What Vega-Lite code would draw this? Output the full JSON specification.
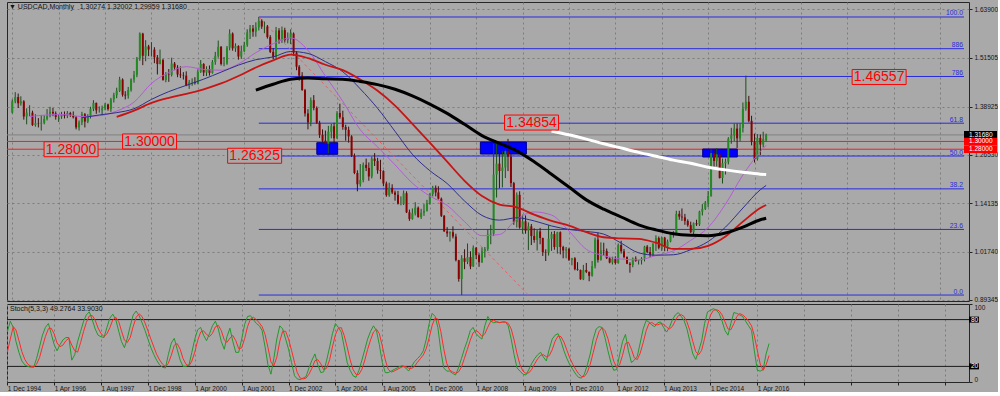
{
"$schema": "https://vega.github.io/schema/vega-lite/v6.json",
"background": "#a9a9a9",
"padding": {"left": 4, "top": 1, "right": 0, "bottom": 0},
"autosize": {"type": "pad"},
"spacing": 3,
"bounds": "flush",
"config": {
  "font": "Liberation Sans",
  "view": {"stroke": "#262626", "strokeWidth": 1},
  "axis": {"labelFont": "Liberation Sans", "labelFontSize": 6.5, "labelColor": "#141414", "domain": false, "tickColor": "#222222", "tickSize": 3, "gridColor": "#7c7c7c", "gridDash": [2, 3], "gridOpacity": 1, "title": null, "labelOverlap": false, "labelBound": false}
},
"datasets": {
"bars": [
{"d":"1994-12-01","o":1.374,"h":1.408,"l":1.372,"c":1.403,"k":64,"dl":38},
{"d":"1995-01-01","o":1.403,"h":1.4267,"l":1.398,"c":1.414,"k":78,"dl":55},
{"d":"1995-02-01","o":1.414,"h":1.423,"l":1.386,"c":1.398,"k":70,"dl":71},
{"d":"1995-03-01","o":1.398,"h":1.416,"l":1.392,"c":1.403,"k":52,"dl":66.7},
{"d":"1995-04-01","o":1.403,"h":1.406,"l":1.356,"c":1.364,"k":38,"dl":53.3},
{"d":"1995-05-01","o":1.364,"h":1.385,"l":1.344,"c":1.374,"k":27,"dl":39},
{"d":"1995-06-01","o":1.374,"h":1.393,"l":1.365,"c":1.374,"k":22,"dl":29},
{"d":"1995-07-01","o":1.374,"h":1.379,"l":1.340,"c":1.342,"k":20,"dl":23},
{"d":"1995-08-01","o":1.342,"h":1.370,"l":1.338,"c":1.347,"k":19,"dl":20.3},
{"d":"1995-09-01","o":1.347,"h":1.360,"l":1.336,"c":1.346,"k":19,"dl":19.3},
{"d":"1995-10-01","o":1.346,"h":1.368,"l":1.328,"c":1.348,"k":30,"dl":22.7},
{"d":"1995-11-01","o":1.348,"h":1.367,"l":1.344,"c":1.358,"k":45,"dl":31.3},
{"d":"1995-12-01","o":1.358,"h":1.383,"l":1.354,"c":1.365,"k":60,"dl":45},
{"d":"1996-01-01","o":1.365,"h":1.389,"l":1.362,"c":1.376,"k":70,"dl":58.3},
{"d":"1996-02-01","o":1.376,"h":1.386,"l":1.365,"c":1.372,"k":75,"dl":68.3},
{"d":"1996-03-01","o":1.372,"h":1.377,"l":1.356,"c":1.363,"k":62,"dl":69},
{"d":"1996-04-01","o":1.363,"h":1.370,"l":1.350,"c":1.364,"k":48,"dl":61.7},
{"d":"1996-05-01","o":1.364,"h":1.376,"l":1.358,"c":1.369,"k":40,"dl":50},
{"d":"1996-06-01","o":1.369,"h":1.377,"l":1.359,"c":1.366,"k":48,"dl":45.3},
{"d":"1996-07-01","o":1.366,"h":1.378,"l":1.360,"c":1.373,"k":54,"dl":47.3},
{"d":"1996-08-01","o":1.373,"h":1.376,"l":1.363,"c":1.368,"k":57,"dl":53},
{"d":"1996-09-01","o":1.368,"h":1.377,"l":1.359,"c":1.362,"k":57,"dl":56},
{"d":"1996-10-01","o":1.362,"h":1.365,"l":1.331,"c":1.336,"k":28,"dl":47.3},
{"d":"1996-11-01","o":1.336,"h":1.354,"l":1.328,"c":1.349,"k":35,"dl":40},
{"d":"1996-12-01","o":1.349,"h":1.376,"l":1.342,"c":1.370,"k":52,"dl":38.3},
{"d":"1997-01-01","o":1.370,"h":1.373,"l":1.336,"c":1.351,"k":65,"dl":50.7},
{"d":"1997-02-01","o":1.351,"h":1.370,"l":1.347,"c":1.364,"k":78,"dl":65},
{"d":"1997-03-01","o":1.364,"h":1.389,"l":1.359,"c":1.384,"k":86,"dl":76.3},
{"d":"1997-04-01","o":1.384,"h":1.406,"l":1.378,"c":1.399,"k":90,"dl":84.7},
{"d":"1997-05-01","o":1.399,"h":1.400,"l":1.371,"c":1.380,"k":80,"dl":85.3},
{"d":"1997-06-01","o":1.380,"h":1.390,"l":1.374,"c":1.380,"k":68,"dl":79.3},
{"d":"1997-07-01","o":1.380,"h":1.392,"l":1.368,"c":1.385,"k":60,"dl":69.3},
{"d":"1997-08-01","o":1.385,"h":1.399,"l":1.380,"c":1.395,"k":58,"dl":62},
{"d":"1997-09-01","o":1.395,"h":1.397,"l":1.379,"c":1.383,"k":57,"dl":58.3},
{"d":"1997-10-01","o":1.383,"h":1.412,"l":1.376,"c":1.408,"k":70,"dl":61.7},
{"d":"1997-11-01","o":1.408,"h":1.425,"l":1.400,"c":1.419,"k":82,"dl":69.7},
{"d":"1997-12-01","o":1.419,"h":1.438,"l":1.411,"c":1.430,"k":87,"dl":79.7},
{"d":"1998-01-01","o":1.430,"h":1.466,"l":1.427,"c":1.459,"k":80,"dl":83},
{"d":"1998-02-01","o":1.459,"h":1.462,"l":1.415,"c":1.420,"k":65,"dl":77.3},
{"d":"1998-03-01","o":1.420,"h":1.429,"l":1.408,"c":1.418,"k":52,"dl":65.7},
{"d":"1998-04-01","o":1.418,"h":1.440,"l":1.410,"c":1.432,"k":44,"dl":53.7},
{"d":"1998-05-01","o":1.432,"h":1.462,"l":1.428,"c":1.459,"k":56,"dl":50.7},
{"d":"1998-06-01","o":1.459,"h":1.481,"l":1.451,"c":1.471,"k":72,"dl":57.3},
{"d":"1998-07-01","o":1.471,"h":1.517,"l":1.465,"c":1.513,"k":86,"dl":71.3},
{"d":"1998-08-01","o":1.513,"h":1.580,"l":1.507,"c":1.577,"k":91,"dl":83},
{"d":"1998-09-01","o":1.577,"h":1.579,"l":1.496,"c":1.520,"k":85,"dl":87.3},
{"d":"1998-10-01","o":1.520,"h":1.560,"l":1.506,"c":1.544,"k":76,"dl":84},
{"d":"1998-11-01","o":1.544,"h":1.548,"l":1.519,"c":1.536,"k":66,"dl":75.7},
{"d":"1998-12-01","o":1.536,"h":1.555,"l":1.518,"c":1.536,"k":55,"dl":65.7},
{"d":"1999-01-01","o":1.536,"h":1.542,"l":1.501,"c":1.516,"k":44,"dl":55},
{"d":"1999-02-01","o":1.516,"h":1.522,"l":1.472,"c":1.499,"k":35,"dl":44.7},
{"d":"1999-03-01","o":1.499,"h":1.536,"l":1.498,"c":1.509,"k":28,"dl":35.7},
{"d":"1999-04-01","o":1.509,"h":1.512,"l":1.456,"c":1.458,"k":22,"dl":28.3},
{"d":"1999-05-01","o":1.458,"h":1.478,"l":1.452,"c":1.472,"k":19,"dl":23},
{"d":"1999-06-01","o":1.472,"h":1.486,"l":1.453,"c":1.471,"k":18,"dl":19.7},
{"d":"1999-07-01","o":1.471,"h":1.515,"l":1.467,"c":1.500,"k":35,"dl":24},
{"d":"1999-08-01","o":1.500,"h":1.504,"l":1.483,"c":1.490,"k":50,"dl":34.3},
{"d":"1999-09-01","o":1.490,"h":1.496,"l":1.465,"c":1.472,"k":56,"dl":47},
{"d":"1999-10-01","o":1.472,"h":1.493,"l":1.463,"c":1.470,"k":42,"dl":49.3},
{"d":"1999-11-01","o":1.470,"h":1.478,"l":1.459,"c":1.469,"k":28,"dl":42},
{"d":"1999-12-01","o":1.469,"h":1.480,"l":1.442,"c":1.443,"k":20,"dl":30},
{"d":"2000-01-01","o":1.443,"h":1.458,"l":1.435,"c":1.452,"k":20,"dl":22.7},
{"d":"2000-02-01","o":1.452,"h":1.462,"l":1.443,"c":1.453,"k":22,"dl":20.7},
{"d":"2000-03-01","o":1.453,"h":1.465,"l":1.446,"c":1.450,"k":38,"dl":26.7},
{"d":"2000-04-01","o":1.450,"h":1.485,"l":1.447,"c":1.479,"k":55,"dl":38.3},
{"d":"2000-05-01","o":1.479,"h":1.509,"l":1.476,"c":1.499,"k":67,"dl":53.3},
{"d":"2000-06-01","o":1.499,"h":1.501,"l":1.468,"c":1.477,"k":70,"dl":64},
{"d":"2000-07-01","o":1.477,"h":1.493,"l":1.468,"c":1.486,"k":60,"dl":65.7},
{"d":"2000-08-01","o":1.486,"h":1.495,"l":1.469,"c":1.476,"k":53,"dl":61},
{"d":"2000-09-01","o":1.476,"h":1.509,"l":1.474,"c":1.504,"k":62,"dl":58.3},
{"d":"2000-10-01","o":1.504,"h":1.530,"l":1.497,"c":1.520,"k":72,"dl":62.3},
{"d":"2000-11-01","o":1.520,"h":1.559,"l":1.515,"c":1.543,"k":78,"dl":70.7},
{"d":"2000-12-01","o":1.543,"h":1.545,"l":1.495,"c":1.499,"k":68,"dl":72.7},
{"d":"2001-01-01","o":1.499,"h":1.517,"l":1.493,"c":1.500,"k":52,"dl":66},
{"d":"2001-02-01","o":1.500,"h":1.545,"l":1.497,"c":1.541,"k":42,"dl":54},
{"d":"2001-03-01","o":1.541,"h":1.588,"l":1.534,"c":1.577,"k":58,"dl":50.7},
{"d":"2001-04-01","o":1.577,"h":1.580,"l":1.533,"c":1.539,"k":69,"dl":56.3},
{"d":"2001-05-01","o":1.539,"h":1.552,"l":1.530,"c":1.545,"k":52,"dl":59.7},
{"d":"2001-06-01","o":1.545,"h":1.547,"l":1.510,"c":1.518,"k":38,"dl":53},
{"d":"2001-07-01","o":1.518,"h":1.546,"l":1.512,"c":1.532,"k":38,"dl":42.7},
{"d":"2001-08-01","o":1.532,"h":1.556,"l":1.530,"c":1.548,"k":55,"dl":43.7},
{"d":"2001-09-01","o":1.548,"h":1.588,"l":1.543,"c":1.580,"k":74,"dl":55.7},
{"d":"2001-10-01","o":1.580,"h":1.599,"l":1.563,"c":1.590,"k":84,"dl":71},
{"d":"2001-11-01","o":1.590,"h":1.599,"l":1.569,"c":1.582,"k":85,"dl":81},
{"d":"2001-12-01","o":1.582,"h":1.606,"l":1.569,"c":1.593,"k":80,"dl":83},
{"d":"2002-01-01","o":1.593,"h":1.6196,"l":1.585,"c":1.610,"k":75,"dl":80},
{"d":"2002-02-01","o":1.610,"h":1.614,"l":1.589,"c":1.595,"k":72,"dl":75.7},
{"d":"2002-03-01","o":1.595,"h":1.608,"l":1.578,"c":1.595,"k":66,"dl":71},
{"d":"2002-04-01","o":1.595,"h":1.599,"l":1.564,"c":1.568,"k":45,"dl":61},
{"d":"2002-05-01","o":1.568,"h":1.573,"l":1.527,"c":1.530,"k":22,"dl":44.3},
{"d":"2002-06-01","o":1.530,"h":1.540,"l":1.511,"c":1.517,"k":10,"dl":25.7},
{"d":"2002-07-01","o":1.517,"h":1.594,"l":1.510,"c":1.585,"k":30,"dl":20.7},
{"d":"2002-08-01","o":1.585,"h":1.591,"l":1.551,"c":1.562,"k":55,"dl":31.7},
{"d":"2002-09-01","o":1.562,"h":1.595,"l":1.553,"c":1.586,"k":72,"dl":52.3},
{"d":"2002-10-01","o":1.586,"h":1.592,"l":1.554,"c":1.560,"k":68,"dl":65},
{"d":"2002-11-01","o":1.560,"h":1.580,"l":1.552,"c":1.566,"k":55,"dl":65},
{"d":"2002-12-01","o":1.566,"h":1.588,"l":1.550,"c":1.577,"k":42,"dl":55},
{"d":"2003-01-01","o":1.577,"h":1.580,"l":1.520,"c":1.528,"k":25,"dl":40.7},
{"d":"2003-02-01","o":1.528,"h":1.532,"l":1.483,"c":1.492,"k":8,"dl":25},
{"d":"2003-03-01","o":1.492,"h":1.496,"l":1.456,"c":1.469,"k":4,"dl":12.3},
{"d":"2003-04-01","o":1.469,"h":1.478,"l":1.430,"c":1.432,"k":3,"dl":5},
{"d":"2003-05-01","o":1.432,"h":1.435,"l":1.364,"c":1.372,"k":5,"dl":4},
{"d":"2003-06-01","o":1.372,"h":1.383,"l":1.331,"c":1.349,"k":7,"dl":5},
{"d":"2003-07-01","o":1.349,"h":1.413,"l":1.339,"c":1.406,"k":18,"dl":10},
{"d":"2003-08-01","o":1.406,"h":1.419,"l":1.380,"c":1.386,"k":28,"dl":17.7},
{"d":"2003-09-01","o":1.386,"h":1.390,"l":1.345,"c":1.348,"k":36,"dl":27.3},
{"d":"2003-10-01","o":1.348,"h":1.353,"l":1.309,"c":1.317,"k":22,"dl":28.7},
{"d":"2003-11-01","o":1.317,"h":1.331,"l":1.298,"c":1.302,"k":12,"dl":23.3},
{"d":"2003-12-01","o":1.302,"h":1.328,"l":1.290,"c":1.294,"k":13,"dl":15.7},
{"d":"2004-01-01","o":1.294,"h":1.340,"l":1.270,"c":1.325,"k":28,"dl":17.7},
{"d":"2004-02-01","o":1.325,"h":1.345,"l":1.308,"c":1.339,"k":45,"dl":28.7},
{"d":"2004-03-01","o":1.339,"h":1.348,"l":1.296,"c":1.308,"k":62,"dl":45},
{"d":"2004-04-01","o":1.308,"h":1.378,"l":1.307,"c":1.373,"k":75,"dl":60.7},
{"d":"2004-05-01","o":1.373,"h":1.397,"l":1.358,"c":1.362,"k":70,"dl":69},
{"d":"2004-06-01","o":1.362,"h":1.379,"l":1.330,"c":1.337,"k":64,"dl":69.7},
{"d":"2004-07-01","o":1.337,"h":1.343,"l":1.302,"c":1.330,"k":45,"dl":59.7},
{"d":"2004-08-01","o":1.330,"h":1.338,"l":1.297,"c":1.313,"k":25,"dl":44.7},
{"d":"2004-09-01","o":1.313,"h":1.316,"l":1.260,"c":1.263,"k":15,"dl":28.3},
{"d":"2004-10-01","o":1.263,"h":1.269,"l":1.216,"c":1.219,"k":8,"dl":16},
{"d":"2004-11-01","o":1.219,"h":1.226,"l":1.172,"c":1.190,"k":6,"dl":9.7},
{"d":"2004-12-01","o":1.190,"h":1.242,"l":1.184,"c":1.201,"k":15,"dl":9.7},
{"d":"2005-01-01","o":1.201,"h":1.246,"l":1.195,"c":1.240,"k":28,"dl":16.3},
{"d":"2005-02-01","o":1.240,"h":1.256,"l":1.224,"c":1.232,"k":42,"dl":28.3},
{"d":"2005-03-01","o":1.232,"h":1.246,"l":1.199,"c":1.210,"k":55,"dl":41.7},
{"d":"2005-04-01","o":1.210,"h":1.261,"l":1.205,"c":1.256,"k":65,"dl":54},
{"d":"2005-05-01","o":1.256,"h":1.270,"l":1.237,"c":1.250,"k":72,"dl":64},
{"d":"2005-06-01","o":1.250,"h":1.258,"l":1.217,"c":1.226,"k":66,"dl":67.7},
{"d":"2005-07-01","o":1.226,"h":1.253,"l":1.203,"c":1.224,"k":48,"dl":62},
{"d":"2005-08-01","o":1.224,"h":1.226,"l":1.185,"c":1.192,"k":25,"dl":46.3},
{"d":"2005-09-01","o":1.192,"h":1.197,"l":1.158,"c":1.162,"k":12,"dl":28.3},
{"d":"2005-10-01","o":1.162,"h":1.194,"l":1.158,"c":1.181,"k":12,"dl":16.3},
{"d":"2005-11-01","o":1.181,"h":1.190,"l":1.165,"c":1.169,"k":14,"dl":12.7},
{"d":"2005-12-01","o":1.169,"h":1.174,"l":1.148,"c":1.163,"k":16,"dl":14},
{"d":"2006-01-01","o":1.163,"h":1.173,"l":1.138,"c":1.140,"k":18,"dl":16},
{"d":"2006-02-01","o":1.140,"h":1.159,"l":1.136,"c":1.140,"k":20,"dl":18},
{"d":"2006-03-01","o":1.140,"h":1.174,"l":1.137,"c":1.167,"k":21,"dl":19.7},
{"d":"2006-04-01","o":1.167,"h":1.172,"l":1.116,"c":1.118,"k":18,"dl":19.7},
{"d":"2006-05-01","o":1.118,"h":1.125,"l":1.096,"c":1.101,"k":14,"dl":17.7},
{"d":"2006-06-01","o":1.101,"h":1.128,"l":1.099,"c":1.115,"k":20,"dl":17.3},
{"d":"2006-07-01","o":1.115,"h":1.144,"l":1.110,"c":1.130,"k":26,"dl":20},
{"d":"2006-08-01","o":1.130,"h":1.133,"l":1.104,"c":1.106,"k":30,"dl":25.3},
{"d":"2006-09-01","o":1.106,"h":1.127,"l":1.101,"c":1.117,"k":34,"dl":30},
{"d":"2006-10-01","o":1.117,"h":1.139,"l":1.109,"c":1.122,"k":40,"dl":34.7},
{"d":"2006-11-01","o":1.122,"h":1.150,"l":1.120,"c":1.142,"k":55,"dl":43},
{"d":"2006-12-01","o":1.142,"h":1.167,"l":1.138,"c":1.165,"k":75,"dl":56.7},
{"d":"2007-01-01","o":1.165,"h":1.186,"l":1.159,"c":1.181,"k":88,"dl":72.7},
{"d":"2007-02-01","o":1.181,"h":1.187,"l":1.159,"c":1.169,"k":84,"dl":82.3},
{"d":"2007-03-01","o":1.169,"h":1.185,"l":1.151,"c":1.153,"k":70,"dl":80.7},
{"d":"2007-04-01","o":1.153,"h":1.156,"l":1.106,"c":1.109,"k":40,"dl":64.7},
{"d":"2007-05-01","o":1.109,"h":1.111,"l":1.068,"c":1.069,"k":18,"dl":42.7},
{"d":"2007-06-01","o":1.069,"h":1.080,"l":1.055,"c":1.064,"k":14,"dl":24},
{"d":"2007-07-01","o":1.064,"h":1.069,"l":1.043,"c":1.067,"k":14,"dl":15.3},
{"d":"2007-08-01","o":1.067,"h":1.082,"l":1.051,"c":1.056,"k":11,"dl":13},
{"d":"2007-09-01","o":1.056,"h":1.063,"l":0.992,"c":0.995,"k":9,"dl":11.3},
{"d":"2007-10-01","o":0.995,"h":0.996,"l":0.940,"c":0.947,"k":18,"dl":12.7},
{"d":"2007-11-01","o":0.947,"h":1.008,"l":0.9056,"c":1.000,"k":30,"dl":19},
{"d":"2007-12-01","o":1.000,"h":1.023,"l":0.972,"c":0.991,"k":42,"dl":30},
{"d":"2008-01-01","o":0.991,"h":1.038,"l":0.985,"c":1.003,"k":53,"dl":41.7},
{"d":"2008-02-01","o":1.003,"h":1.018,"l":0.972,"c":0.979,"k":66,"dl":53.7},
{"d":"2008-03-01","o":0.979,"h":1.033,"l":0.978,"c":1.027,"k":70,"dl":63},
{"d":"2008-04-01","o":1.027,"h":1.029,"l":0.998,"c":1.008,"k":62,"dl":66},
{"d":"2008-05-01","o":1.008,"h":1.013,"l":0.978,"c":0.990,"k":58,"dl":63.3},
{"d":"2008-06-01","o":0.990,"h":1.028,"l":0.988,"c":1.019,"k":55,"dl":58.3},
{"d":"2008-07-01","o":1.019,"h":1.029,"l":1.002,"c":1.024,"k":72,"dl":61.7},
{"d":"2008-08-01","o":1.024,"h":1.075,"l":1.019,"c":1.061,"k":84,"dl":70.3},
{"d":"2008-09-01","o":1.061,"h":1.086,"l":1.036,"c":1.063,"k":78,"dl":78},
{"d":"2008-10-01","o":1.063,"h":1.294,"l":1.057,"c":1.215,"k":76,"dl":79.3},
{"d":"2008-11-01","o":1.215,"h":1.299,"l":1.156,"c":1.243,"k":77,"dl":77},
{"d":"2008-12-01","o":1.243,"h":1.299,"l":1.180,"c":1.224,"k":76,"dl":76.3},
{"d":"2009-01-01","o":1.224,"h":1.275,"l":1.182,"c":1.233,"k":77,"dl":76.7},
{"d":"2009-02-01","o":1.233,"h":1.279,"l":1.206,"c":1.275,"k":77,"dl":76.7},
{"d":"2009-03-01","o":1.275,"h":1.3066,"l":1.224,"c":1.261,"k":72,"dl":75.3},
{"d":"2009-04-01","o":1.261,"h":1.268,"l":1.183,"c":1.193,"k":55,"dl":68},
{"d":"2009-05-01","o":1.193,"h":1.196,"l":1.086,"c":1.093,"k":35,"dl":54},
{"d":"2009-06-01","o":1.093,"h":1.169,"l":1.079,"c":1.163,"k":18,"dl":36},
{"d":"2009-07-01","o":1.163,"h":1.172,"l":1.076,"c":1.079,"k":14,"dl":22.3},
{"d":"2009-08-01","o":1.079,"h":1.112,"l":1.063,"c":1.095,"k":10,"dl":14},
{"d":"2009-09-01","o":1.095,"h":1.110,"l":1.063,"c":1.071,"k":9,"dl":11},
{"d":"2009-10-01","o":1.071,"h":1.092,"l":1.021,"c":1.082,"k":16,"dl":11.7},
{"d":"2009-11-01","o":1.082,"h":1.088,"l":1.034,"c":1.057,"k":24,"dl":16.3},
{"d":"2009-12-01","o":1.057,"h":1.077,"l":1.040,"c":1.047,"k":30,"dl":23.3},
{"d":"2010-01-01","o":1.047,"h":1.073,"l":1.020,"c":1.069,"k":35,"dl":29.7},
{"d":"2010-02-01","o":1.069,"h":1.078,"l":1.036,"c":1.052,"k":38,"dl":34.3},
{"d":"2010-03-01","o":1.052,"h":1.053,"l":1.006,"c":1.016,"k":32,"dl":35},
{"d":"2010-04-01","o":1.016,"h":1.023,"l":0.993,"c":1.015,"k":27,"dl":32.3},
{"d":"2010-05-01","o":1.015,"h":1.085,"l":1.007,"c":1.050,"k":42,"dl":33.7},
{"d":"2010-06-01","o":1.050,"h":1.068,"l":1.019,"c":1.062,"k":55,"dl":41.3},
{"d":"2010-07-01","o":1.062,"h":1.070,"l":1.022,"c":1.029,"k":60,"dl":52.3},
{"d":"2010-08-01","o":1.029,"h":1.068,"l":1.012,"c":1.067,"k":62,"dl":59},
{"d":"2010-09-01","o":1.067,"h":1.069,"l":1.010,"c":1.029,"k":52,"dl":58},
{"d":"2010-10-01","o":1.029,"h":1.032,"l":1.000,"c":1.020,"k":40,"dl":51.3},
{"d":"2010-11-01","o":1.020,"h":1.029,"l":1.000,"c":1.024,"k":30,"dl":40.7},
{"d":"2010-12-01","o":1.024,"h":1.027,"l":0.993,"c":0.996,"k":22,"dl":30.7},
{"d":"2011-01-01","o":0.996,"h":1.001,"l":0.982,"c":1.000,"k":16,"dl":22.7},
{"d":"2011-02-01","o":1.000,"h":1.003,"l":0.969,"c":0.972,"k":10,"dl":16},
{"d":"2011-03-01","o":0.972,"h":0.990,"l":0.968,"c":0.970,"k":6,"dl":10.7},
{"d":"2011-04-01","o":0.970,"h":0.971,"l":0.945,"c":0.946,"k":5,"dl":7},
{"d":"2011-05-01","o":0.946,"h":0.983,"l":0.944,"c":0.970,"k":10,"dl":7},
{"d":"2011-06-01","o":0.970,"h":0.988,"l":0.962,"c":0.965,"k":22,"dl":12.3},
{"d":"2011-07-01","o":0.965,"h":0.966,"l":0.941,"c":0.955,"k":36,"dl":22.7},
{"d":"2011-08-01","o":0.955,"h":0.993,"l":0.953,"c":0.980,"k":55,"dl":37.7},
{"d":"2011-09-01","o":0.980,"h":1.053,"l":0.974,"c":1.048,"k":68,"dl":53},
{"d":"2011-10-01","o":1.048,"h":1.066,"l":0.989,"c":0.996,"k":71,"dl":64.7},
{"d":"2011-11-01","o":0.996,"h":1.041,"l":0.994,"c":1.020,"k":70,"dl":69.7},
{"d":"2011-12-01","o":1.020,"h":1.040,"l":1.007,"c":1.019,"k":57,"dl":66},
{"d":"2012-01-01","o":1.019,"h":1.025,"l":0.998,"c":1.000,"k":40,"dl":55.7},
{"d":"2012-02-01","o":1.000,"h":1.003,"l":0.987,"c":0.989,"k":25,"dl":40.7},
{"d":"2012-03-01","o":0.989,"h":1.004,"l":0.984,"c":0.998,"k":15,"dl":26.7},
{"d":"2012-04-01","o":0.998,"h":1.005,"l":0.984,"c":0.988,"k":16,"dl":18.7},
{"d":"2012-05-01","o":0.988,"h":1.038,"l":0.986,"c":1.034,"k":35,"dl":22},
{"d":"2012-06-01","o":1.034,"h":1.045,"l":1.012,"c":1.018,"k":52,"dl":34.3},
{"d":"2012-07-01","o":1.018,"h":1.024,"l":1.000,"c":1.003,"k":61,"dl":49.3},
{"d":"2012-08-01","o":1.003,"h":1.005,"l":0.985,"c":0.986,"k":40,"dl":51},
{"d":"2012-09-01","o":0.986,"h":0.990,"l":0.963,"c":0.983,"k":25,"dl":42},
{"d":"2012-10-01","o":0.983,"h":1.002,"l":0.977,"c":0.999,"k":28,"dl":31},
{"d":"2012-11-01","o":0.999,"h":1.005,"l":0.991,"c":0.993,"k":33,"dl":28.7},
{"d":"2012-12-01","o":0.993,"h":0.996,"l":0.984,"c":0.995,"k":50,"dl":37},
{"d":"2013-01-01","o":0.995,"h":1.003,"l":0.984,"c":0.999,"k":68,"dl":50.3},
{"d":"2013-02-01","o":0.999,"h":1.032,"l":0.992,"c":1.030,"k":79,"dl":65.7},
{"d":"2013-03-01","o":1.030,"h":1.034,"l":1.013,"c":1.016,"k":77,"dl":74.7},
{"d":"2013-04-01","o":1.016,"h":1.029,"l":1.003,"c":1.008,"k":73,"dl":76.3},
{"d":"2013-05-01","o":1.008,"h":1.039,"l":1.006,"c":1.037,"k":71,"dl":73.7},
{"d":"2013-06-01","o":1.037,"h":1.059,"l":1.019,"c":1.052,"k":76,"dl":73.3},
{"d":"2013-07-01","o":1.052,"h":1.056,"l":1.023,"c":1.027,"k":77,"dl":74.7},
{"d":"2013-08-01","o":1.027,"h":1.056,"l":1.019,"c":1.053,"k":70,"dl":74.3},
{"d":"2013-09-01","o":1.053,"h":1.055,"l":1.018,"c":1.030,"k":64,"dl":70.3},
{"d":"2013-10-01","o":1.030,"h":1.048,"l":1.018,"c":1.043,"k":70,"dl":68},
{"d":"2013-11-01","o":1.043,"h":1.063,"l":1.041,"c":1.062,"k":80,"dl":71.3},
{"d":"2013-12-01","o":1.062,"h":1.070,"l":1.053,"c":1.062,"k":86,"dl":78.7},
{"d":"2014-01-01","o":1.062,"h":1.122,"l":1.061,"c":1.114,"k":89,"dl":85},
{"d":"2014-02-01","o":1.114,"h":1.122,"l":1.099,"c":1.107,"k":84,"dl":86.3},
{"d":"2014-03-01","o":1.107,"h":1.128,"l":1.096,"c":1.105,"k":79,"dl":84},
{"d":"2014-04-01","o":1.105,"h":1.114,"l":1.086,"c":1.096,"k":68,"dl":77},
{"d":"2014-05-01","o":1.096,"h":1.100,"l":1.081,"c":1.085,"k":52,"dl":66.3},
{"d":"2014-06-01","o":1.085,"h":1.094,"l":1.065,"c":1.067,"k":36,"dl":52},
{"d":"2014-07-01","o":1.067,"h":1.092,"l":1.062,"c":1.090,"k":29,"dl":39},
{"d":"2014-08-01","o":1.090,"h":1.099,"l":1.083,"c":1.087,"k":40,"dl":35},
{"d":"2014-09-01","o":1.087,"h":1.122,"l":1.083,"c":1.120,"k":53,"dl":40.7},
{"d":"2014-10-01","o":1.120,"h":1.139,"l":1.110,"c":1.127,"k":75,"dl":56},
{"d":"2014-11-01","o":1.127,"h":1.147,"l":1.124,"c":1.143,"k":90,"dl":72.7},
{"d":"2014-12-01","o":1.143,"h":1.173,"l":1.131,"c":1.160,"k":92,"dl":85.7},
{"d":"2015-01-01","o":1.160,"h":1.280,"l":1.158,"c":1.270,"k":94,"dl":92},
{"d":"2015-02-01","o":1.270,"h":1.280,"l":1.235,"c":1.250,"k":92,"dl":92.7},
{"d":"2015-03-01","o":1.250,"h":1.283,"l":1.236,"c":1.267,"k":88,"dl":91.3},
{"d":"2015-04-01","o":1.267,"h":1.269,"l":1.205,"c":1.206,"k":78,"dl":86},
{"d":"2015-05-01","o":1.206,"h":1.256,"l":1.192,"c":1.244,"k":66,"dl":77.3},
{"d":"2015-06-01","o":1.244,"h":1.256,"l":1.215,"c":1.248,"k":60,"dl":68},
{"d":"2015-07-01","o":1.248,"h":1.311,"l":1.241,"c":1.307,"k":75,"dl":67},
{"d":"2015-08-01","o":1.307,"h":1.335,"l":1.294,"c":1.316,"k":89,"dl":74.7},
{"d":"2015-09-01","o":1.316,"h":1.346,"l":1.301,"c":1.333,"k":88,"dl":84},
{"d":"2015-10-01","o":1.333,"h":1.346,"l":1.283,"c":1.308,"k":86,"dl":87.7},
{"d":"2015-11-01","o":1.308,"h":1.346,"l":1.300,"c":1.335,"k":84,"dl":86},
{"d":"2015-12-01","o":1.335,"h":1.400,"l":1.323,"c":1.384,"k":78,"dl":82.7},
{"d":"2016-01-01","o":1.384,"h":1.469,"l":1.379,"c":1.402,"k":72,"dl":78},
{"d":"2016-02-01","o":1.402,"h":1.417,"l":1.349,"c":1.353,"k":66,"dl":72},
{"d":"2016-03-01","o":1.353,"h":1.366,"l":1.290,"c":1.299,"k":40,"dl":59.3},
{"d":"2016-04-01","o":1.299,"h":1.320,"l":1.246,"c":1.255,"k":15,"dl":40.3},
{"d":"2016-05-01","o":1.255,"h":1.319,"l":1.251,"c":1.309,"k":14,"dl":23},
{"d":"2016-06-01","o":1.309,"h":1.318,"l":1.265,"c":1.292,"k":16,"dl":15},
{"d":"2016-07-01","o":1.292,"h":1.325,"l":1.285,"c":1.306,"k":36,"dl":22},
{"d":"2016-08-01","o":1.30274,"h":1.32002,"l":1.29959,"c":1.3168,"k":49.2764,"dl":33.903}
],
"ma": [
{"d":"1995-06-01","m21":1.364,"m40":null,"m55":null,"m100":null,"m200":null},
{"d":"1995-12-01","m21":1.368,"m40":null,"m55":null,"m100":null,"m200":null},
{"d":"1996-06-01","m21":1.369,"m40":null,"m55":null,"m100":null,"m200":null},
{"d":"1996-12-01","m21":1.364,"m40":1.361,"m55":null,"m100":null,"m200":null},
{"d":"1997-06-01","m21":1.366,"m40":1.368,"m55":null,"m100":null,"m200":null},
{"d":"1997-12-01","m21":1.378,"m40":1.374,"m55":1.363,"m100":null,"m200":null},
{"d":"1998-06-01","m21":1.401,"m40":1.384,"m55":1.379,"m100":null,"m200":null},
{"d":"1998-12-01","m21":1.449,"m40":1.408,"m55":1.399,"m100":null,"m200":null},
{"d":"1999-06-01","m21":1.477,"m40":1.428,"m55":1.412,"m100":null,"m200":null},
{"d":"1999-12-01","m21":1.492,"m40":1.444,"m55":1.422,"m100":null,"m200":null},
{"d":"2000-06-01","m21":1.485,"m40":1.460,"m55":1.434,"m100":null,"m200":null},
{"d":"2000-12-01","m21":1.483,"m40":1.478,"m55":1.449,"m100":null,"m200":null},
{"d":"2001-06-01","m21":1.499,"m40":1.496,"m55":1.468,"m100":null,"m200":null},
{"d":"2001-12-01","m21":1.528,"m40":1.510,"m55":1.490,"m100":1.432,"m200":null},
{"d":"2002-06-01","m21":1.551,"m40":1.517,"m55":1.508,"m100":1.447,"m200":null},
{"d":"2002-12-01","m21":1.566,"m40":1.531,"m55":1.523,"m100":1.460,"m200":null},
{"d":"2003-06-01","m21":1.534,"m40":1.526,"m55":1.514,"m100":1.463,"m200":null},
{"d":"2003-12-01","m21":1.468,"m40":1.505,"m55":1.497,"m100":1.461,"m200":null},
{"d":"2004-06-01","m21":1.403,"m40":1.479,"m55":1.483,"m100":1.460,"m200":null},
{"d":"2004-12-01","m21":1.330,"m40":1.435,"m55":1.459,"m100":1.454,"m200":null},
{"d":"2005-06-01","m21":1.286,"m40":1.385,"m55":1.430,"m100":1.446,"m200":null},
{"d":"2005-12-01","m21":1.240,"m40":1.326,"m55":1.392,"m100":1.434,"m200":null},
{"d":"2006-06-01","m21":1.193,"m40":1.267,"m55":1.345,"m100":1.417,"m200":null},
{"d":"2006-12-01","m21":1.160,"m40":1.225,"m55":1.297,"m100":1.396,"m200":null},
{"d":"2007-06-01","m21":1.136,"m40":1.192,"m55":1.248,"m100":1.372,"m200":null},
{"d":"2007-12-01","m21":1.094,"m40":1.147,"m55":1.199,"m100":1.344,"m200":null},
{"d":"2008-06-01","m21":1.058,"m40":1.110,"m55":1.160,"m100":1.315,"m200":null},
{"d":"2008-12-01","m21":1.061,"m40":1.098,"m55":1.138,"m100":1.295,"m200":null},
{"d":"2009-06-01","m21":1.100,"m40":1.104,"m55":1.131,"m100":1.276,"m200":null},
{"d":"2009-12-01","m21":1.119,"m40":1.096,"m55":1.112,"m100":1.248,"m200":null},
{"d":"2010-06-01","m21":1.111,"m40":1.083,"m55":1.096,"m100":1.216,"m200":1.327},
{"d":"2010-12-01","m21":1.070,"m40":1.074,"m55":1.084,"m100":1.183,"m200":1.317},
{"d":"2011-06-01","m21":1.023,"m40":1.069,"m55":1.067,"m100":1.150,"m200":1.306},
{"d":"2011-12-01","m21":1.007,"m40":1.062,"m55":1.054,"m100":1.126,"m200":1.294},
{"d":"2012-06-01","m21":0.998,"m40":1.039,"m55":1.051,"m100":1.106,"m200":1.283},
{"d":"2012-12-01","m21":0.996,"m40":1.014,"m55":1.050,"m100":1.086,"m200":1.272},
{"d":"2013-06-01","m21":1.007,"m40":1.008,"m55":1.040,"m100":1.073,"m200":1.262},
{"d":"2013-12-01","m21":1.019,"m40":1.009,"m55":1.024,"m100":1.063,"m200":1.252},
{"d":"2014-06-01","m21":1.046,"m40":1.022,"m55":1.024,"m100":1.059,"m200":1.244},
{"d":"2014-12-01","m21":1.079,"m40":1.043,"m55":1.032,"m100":1.058,"m200":1.234},
{"d":"2015-06-01","m21":1.139,"m40":1.080,"m55":1.056,"m100":1.065,"m200":1.227},
{"d":"2015-12-01","m21":1.214,"m40":1.129,"m55":1.094,"m100":1.080,"m200":1.221},
{"d":"2016-06-01","m21":1.274,"m40":1.176,"m55":1.129,"m100":1.099,"m200":1.216},
{"d":"2016-08-01","m21":1.290,"m40":1.187,"m55":1.137,"m100":1.103,"m200":1.215}
],
"fib": [
{"lv":"100.0","p":1.6196},{"lv":"886","p":1.5382},{"lv":"786","p":1.4668},{"lv":"61.8","p":1.3469},
{"lv":"50.0","p":1.2626},{"lv":"38.2","p":1.1783},{"lv":"23.6","p":1.0741},{"lv":"0.0","p":0.9056}
],
"fibline": [
{"d":"2002-01-01","p":1.6196},{"d":"2009-10-01","p":0.9056}
],
"levels": [
{"p":1.3168,"kind":"bid"},{"p":1.30,"kind":"level"},{"p":1.28,"kind":"level"}
],
"boxes": [
{"d1":"2003-09-02","d2":"2004-04-08","p1":1.2968,"p2":1.2670},
{"d1":"2008-05-15","d2":"2009-09-10","p1":1.2985,"p2":1.2677},
{"d1":"2014-10-05","d2":"2015-10-03","p1":1.2806,"p2":1.2601}
],
"notes": [
{"t":"1.28000","d":"1996-08-09","p":1.28},
{"t":"1.30000","d":"1998-11-11","p":1.30},
{"t":"1.26325","d":"2001-11-18","p":1.26325},
{"t":"1.34854","d":"2009-11-03","p":1.34854},
{"t":"1.46557","d":"2019-10-31","p":1.46557}
],
"stlev": [{"lv":80},{"lv":20}]
},
"vconcat": [
{
"width": 962, "height": 299,
"title": {"text": "▼ USDCAD,Monthly\u00a0\u00a0\u00a01.30274 1.32002 1.29959 1.31680", "anchor": "start", "frame": "group", "orient": "top", "offset": -14, "baseline": "alphabetic", "fontSize": 7, "fontWeight": "normal", "color": "#111111", "font": "Liberation Sans", "dx": 2},
"layer": [
{"data": {"name": "fib"}, "mark": {"type": "rule", "color": "#2b2be0", "strokeWidth": 1},
 "encoding": {
  "x": {"datum": {"year": 2002, "month": 1, "date": 1, "utc": true}, "type": "temporal",
        "scale": {"type": "utc", "domain": [{"year": 1994, "month": 11, "date": 28, "utc": true}, {"year": 2022, "month": 4, "date": 9, "utc": true}]},
        "axis": {"labels": false, "ticks": false, "grid": true, "domain": false, "title": null,
          "values": [{"year":1994,"month":12,"date":1,"utc":true},{"year":1996,"month":4,"date":1,"utc":true},{"year":1997,"month":8,"date":1,"utc":true},{"year":1998,"month":12,"date":1,"utc":true},{"year":2000,"month":4,"date":1,"utc":true},{"year":2001,"month":8,"date":1,"utc":true},{"year":2002,"month":12,"date":1,"utc":true},{"year":2004,"month":4,"date":1,"utc":true},{"year":2005,"month":8,"date":1,"utc":true},{"year":2006,"month":12,"date":1,"utc":true},{"year":2008,"month":4,"date":1,"utc":true},{"year":2009,"month":8,"date":1,"utc":true},{"year":2010,"month":12,"date":1,"utc":true},{"year":2012,"month":4,"date":1,"utc":true},{"year":2013,"month":8,"date":1,"utc":true},{"year":2014,"month":12,"date":1,"utc":true},{"year":2016,"month":4,"date":1,"utc":true},{"year":2017,"month":8,"date":1,"utc":true},{"year":2018,"month":12,"date":1,"utc":true},{"year":2020,"month":4,"date":1,"utc":true},{"year":2021,"month":8,"date":1,"utc":true}]}},
  "x2": {"datum": {"year": 2022, "month": 4, "date": 9, "utc": true}},
  "y": {"field": "p", "type": "quantitative", "scale": {"domain": [0.8903, 1.6581], "zero": false, "nice": false},
        "axis": {"orient": "right", "grid": true, "format": ".5f", "labelPadding": 2, "tickSize": 3,
          "values": [0.89345, 0.9545, 1.0174, 1.07845, 1.14135, 1.20425, 1.2653, 1.3282, 1.38925, 1.45215, 1.51505, 1.5761, 1.639]}}
 }},
{"data": {"name": "fib"}, "mark": {"type": "text", "color": "#2b2be0", "fontSize": 6.8, "align": "right", "baseline": "bottom", "dx": -1, "dy": -0.5},
 "encoding": {
  "x": {"datum": {"year": 2022, "month": 4, "date": 9, "utc": true}, "type": "temporal", "scale": {"type": "utc", "domain": [{"year": 1994, "month": 11, "date": 28, "utc": true}, {"year": 2022, "month": 4, "date": 9, "utc": true}]}},
  "y": {"field": "p", "type": "quantitative", "scale": {"domain": [0.8903, 1.6581], "zero": false, "nice": false}},
  "text": {"field": "lv"}
 }},
{"data": {"name": "fibline"}, "mark": {"type": "line", "color": "#e8606a", "strokeWidth": 1, "strokeDash": [3, 3]},
 "encoding": {
  "x": {"field": "d", "type": "temporal", "scale": {"type": "utc", "domain": [{"year": 1994, "month": 11, "date": 28, "utc": true}, {"year": 2022, "month": 4, "date": 9, "utc": true}]}},
  "y": {"field": "p", "type": "quantitative", "scale": {"domain": [0.8903, 1.6581], "zero": false, "nice": false}}
 }},
{"data": {"name": "levels"}, "mark": {"type": "rule", "strokeWidth": 1},
 "encoding": {
  "y": {"field": "p", "type": "quantitative", "scale": {"domain": [0.8903, 1.6581], "zero": false, "nice": false}},
  "color": {"condition": {"test": "datum.kind == 'bid'", "value": "#808080"}, "value": "#ff1a1a"}
 }},
{"data": {"name": "boxes"}, "mark": {"type": "rect", "fill": "#0000ff", "stroke": "#00008a", "strokeWidth": 1},
 "encoding": {
  "x": {"field": "d1", "type": "temporal", "scale": {"type": "utc", "domain": [{"year": 1994, "month": 11, "date": 28, "utc": true}, {"year": 2022, "month": 4, "date": 9, "utc": true}]}},
  "x2": {"field": "d2"},
  "y": {"field": "p1", "type": "quantitative", "scale": {"domain": [0.8903, 1.6581], "zero": false, "nice": false}},
  "y2": {"field": "p2"}
 }},
{"data": {"name": "bars"}, "mark": {"type": "rule", "strokeWidth": 1},
 "encoding": {
  "x": {"field": "d", "type": "temporal", "scale": {"type": "utc", "domain": [{"year": 1994, "month": 11, "date": 28, "utc": true}, {"year": 2022, "month": 4, "date": 9, "utc": true}]}},
  "y": {"field": "l", "type": "quantitative", "scale": {"domain": [0.8903, 1.6581], "zero": false, "nice": false}},
  "y2": {"field": "h"},
  "color": {"condition": {"test": "datum.c >= datum.o", "value": "#1d4d1d"}, "value": "#3a1010"}
 }},
{"data": {"name": "bars"}, "mark": {"type": "bar", "size": 2},
 "encoding": {
  "x": {"field": "d", "type": "temporal", "scale": {"type": "utc", "domain": [{"year": 1994, "month": 11, "date": 28, "utc": true}, {"year": 2022, "month": 4, "date": 9, "utc": true}]}},
  "y": {"field": "o", "type": "quantitative", "scale": {"domain": [0.8903, 1.6581], "zero": false, "nice": false}},
  "y2": {"field": "c"},
  "color": {"condition": {"test": "datum.c >= datum.o", "value": "#228b22"}, "value": "#8b0000"}
 }},
{"data": {"name": "ma"}, "mark": {"type": "line", "color": "#b45cd6", "strokeWidth": 1, "interpolate": "monotone"},
 "encoding": {
  "x": {"field": "d", "type": "temporal", "scale": {"type": "utc", "domain": [{"year": 1994, "month": 11, "date": 28, "utc": true}, {"year": 2022, "month": 4, "date": 9, "utc": true}]}},
  "y": {"field": "m21", "type": "quantitative", "scale": {"domain": [0.8903, 1.6581], "zero": false, "nice": false}}
 }},
{"data": {"name": "ma"}, "mark": {"type": "line", "color": "#2e2e8c", "strokeWidth": 1, "interpolate": "monotone"},
 "encoding": {
  "x": {"field": "d", "type": "temporal", "scale": {"type": "utc", "domain": [{"year": 1994, "month": 11, "date": 28, "utc": true}, {"year": 2022, "month": 4, "date": 9, "utc": true}]}},
  "y": {"field": "m40", "type": "quantitative", "scale": {"domain": [0.8903, 1.6581], "zero": false, "nice": false}}
 }},
{"data": {"name": "ma"}, "mark": {"type": "line", "color": "#c81414", "strokeWidth": 1.8, "interpolate": "monotone"},
 "encoding": {
  "x": {"field": "d", "type": "temporal", "scale": {"type": "utc", "domain": [{"year": 1994, "month": 11, "date": 28, "utc": true}, {"year": 2022, "month": 4, "date": 9, "utc": true}]}},
  "y": {"field": "m55", "type": "quantitative", "scale": {"domain": [0.8903, 1.6581], "zero": false, "nice": false}}
 }},
{"data": {"name": "ma"}, "mark": {"type": "line", "color": "#000000", "strokeWidth": 3, "interpolate": "monotone"},
 "encoding": {
  "x": {"field": "d", "type": "temporal", "scale": {"type": "utc", "domain": [{"year": 1994, "month": 11, "date": 28, "utc": true}, {"year": 2022, "month": 4, "date": 9, "utc": true}]}},
  "y": {"field": "m100", "type": "quantitative", "scale": {"domain": [0.8903, 1.6581], "zero": false, "nice": false}}
 }},
{"data": {"name": "ma"}, "mark": {"type": "line", "color": "#ffffff", "strokeWidth": 3, "interpolate": "monotone"},
 "encoding": {
  "x": {"field": "d", "type": "temporal", "scale": {"type": "utc", "domain": [{"year": 1994, "month": 11, "date": 28, "utc": true}, {"year": 2022, "month": 4, "date": 9, "utc": true}]}},
  "y": {"field": "m200", "type": "quantitative", "scale": {"domain": [0.8903, 1.6581], "zero": false, "nice": false}}
 }},
{"data": {"name": "notes"}, "mark": {"type": "point", "shape": "M-1,-0.278H1V0.278H-1Z", "size": 2916, "filled": true, "fill": "#a9a9a9", "stroke": "#ff0000", "strokeWidth": 1, "opacity": 1},
 "encoding": {
  "x": {"field": "d", "type": "temporal", "scale": {"type": "utc", "domain": [{"year": 1994, "month": 11, "date": 28, "utc": true}, {"year": 2022, "month": 4, "date": 9, "utc": true}]}},
  "y": {"field": "p", "type": "quantitative", "scale": {"domain": [0.8903, 1.6581], "zero": false, "nice": false}}
 }},
{"data": {"name": "notes"}, "mark": {"type": "text", "color": "#ff0000", "fontSize": 14, "font": "Liberation Sans", "align": "center", "baseline": "middle", "dy": 0.5},
 "encoding": {
  "x": {"field": "d", "type": "temporal", "scale": {"type": "utc", "domain": [{"year": 1994, "month": 11, "date": 28, "utc": true}, {"year": 2022, "month": 4, "date": 9, "utc": true}]}},
  "y": {"field": "p", "type": "quantitative", "scale": {"domain": [0.8903, 1.6581], "zero": false, "nice": false}},
  "text": {"field": "t"}
 }},
{"data": {"name": "levels"}, "mark": {"type": "point", "shape": "M0,-0.23H2V0.23H0Z", "size": 1089, "filled": true, "opacity": 1, "strokeWidth": 0},
 "encoding": {
  "x": {"datum": {"year": 2022, "month": 4, "date": 9, "utc": true}, "type": "temporal", "scale": {"type": "utc", "domain": [{"year": 1994, "month": 11, "date": 28, "utc": true}, {"year": 2022, "month": 4, "date": 9, "utc": true}]}},
  "y": {"field": "p", "type": "quantitative", "scale": {"domain": [0.8903, 1.6581], "zero": false, "nice": false}},
  "color": {"condition": {"test": "datum.kind == 'bid'", "value": "#000000"}, "value": "#ff0000"}
 }},
{"data": {"name": "levels"}, "mark": {"type": "text", "color": "#ffffff", "fontSize": 6.5, "align": "left", "baseline": "middle", "dx": 5},
 "encoding": {
  "x": {"datum": {"year": 2022, "month": 4, "date": 9, "utc": true}, "type": "temporal", "scale": {"type": "utc", "domain": [{"year": 1994, "month": 11, "date": 28, "utc": true}, {"year": 2022, "month": 4, "date": 9, "utc": true}]}},
  "y": {"field": "p", "type": "quantitative", "scale": {"domain": [0.8903, 1.6581], "zero": false, "nice": false}},
  "text": {"field": "p", "type": "quantitative", "format": ".5f"}
 }}
]
},
{
"width": 962, "height": 78,
"title": {"text": "Stoch(5,3,3) 49.2764 33.9030", "anchor": "start", "frame": "group", "orient": "top", "offset": -14, "baseline": "alphabetic", "fontSize": 7, "fontWeight": "normal", "color": "#111111", "font": "Liberation Sans", "dx": 3},
"layer": [
{"data": {"name": "stlev"}, "mark": {"type": "rule", "color": "#1a1a1a", "strokeWidth": 1},
 "encoding": {
  "y": {"field": "lv", "type": "quantitative", "scale": {"domain": [0, 100], "nice": false},
        "axis": {"orient": "right", "grid": false, "values": [0, 20, 80, 100], "labelFlush": true, "labelPadding": 2, "tickSize": 3}}
 }},
{"data": {"name": "bars"}, "mark": {"type": "line", "color": "#23992a", "strokeWidth": 1},
 "encoding": {
  "x": {"field": "d", "type": "temporal", "scale": {"type": "utc", "domain": [{"year": 1994, "month": 11, "date": 28, "utc": true}, {"year": 2022, "month": 4, "date": 9, "utc": true}]},
        "axis": {"grid": true, "ticks": true, "tickSize": 3, "labelAlign": "left", "labelPadding": 0, "labelBaseline": "top", "domain": false,
          "labelExpr": "datum.value > 1464739200000 ? '' : utcFormat(datum.value, '%-d %b %Y')",
          "values": [{"year":1994,"month":12,"date":1,"utc":true},{"year":1996,"month":4,"date":1,"utc":true},{"year":1997,"month":8,"date":1,"utc":true},{"year":1998,"month":12,"date":1,"utc":true},{"year":2000,"month":4,"date":1,"utc":true},{"year":2001,"month":8,"date":1,"utc":true},{"year":2002,"month":12,"date":1,"utc":true},{"year":2004,"month":4,"date":1,"utc":true},{"year":2005,"month":8,"date":1,"utc":true},{"year":2006,"month":12,"date":1,"utc":true},{"year":2008,"month":4,"date":1,"utc":true},{"year":2009,"month":8,"date":1,"utc":true},{"year":2010,"month":12,"date":1,"utc":true},{"year":2012,"month":4,"date":1,"utc":true},{"year":2013,"month":8,"date":1,"utc":true},{"year":2014,"month":12,"date":1,"utc":true},{"year":2016,"month":4,"date":1,"utc":true},{"year":2017,"month":8,"date":1,"utc":true},{"year":2018,"month":12,"date":1,"utc":true},{"year":2020,"month":4,"date":1,"utc":true},{"year":2021,"month":8,"date":1,"utc":true}]}},
  "y": {"field": "k", "type": "quantitative", "scale": {"domain": [0, 100], "nice": false}}
 }},
{"data": {"name": "bars"}, "mark": {"type": "line", "color": "#ff2a2a", "strokeWidth": 1},
 "encoding": {
  "x": {"field": "d", "type": "temporal", "scale": {"type": "utc", "domain": [{"year": 1994, "month": 11, "date": 28, "utc": true}, {"year": 2022, "month": 4, "date": 9, "utc": true}]}},
  "y": {"field": "dl", "type": "quantitative", "scale": {"domain": [0, 100], "nice": false}}
 }},
{"data": {"name": "stlev"}, "mark": {"type": "point", "shape": "M0,-0.6H2V0.6H0Z", "size": 100, "filled": true, "color": "#000000", "opacity": 1, "strokeWidth": 0},
 "encoding": {
  "x": {"datum": {"year": 2022, "month": 4, "date": 9, "utc": true}, "type": "temporal", "scale": {"type": "utc", "domain": [{"year": 1994, "month": 11, "date": 28, "utc": true}, {"year": 2022, "month": 4, "date": 9, "utc": true}]}},
  "y": {"field": "lv", "type": "quantitative", "scale": {"domain": [0, 100], "nice": false}}
 }},
{"data": {"name": "stlev"}, "mark": {"type": "text", "color": "#ffffff", "fontSize": 6.5, "align": "left", "baseline": "middle", "dx": 2},
 "encoding": {
  "x": {"datum": {"year": 2022, "month": 4, "date": 9, "utc": true}, "type": "temporal", "scale": {"type": "utc", "domain": [{"year": 1994, "month": 11, "date": 28, "utc": true}, {"year": 2022, "month": 4, "date": 9, "utc": true}]}},
  "y": {"field": "lv", "type": "quantitative", "scale": {"domain": [0, 100], "nice": false}},
  "text": {"field": "lv", "type": "quantitative"}
 }}
]
}
]
}
